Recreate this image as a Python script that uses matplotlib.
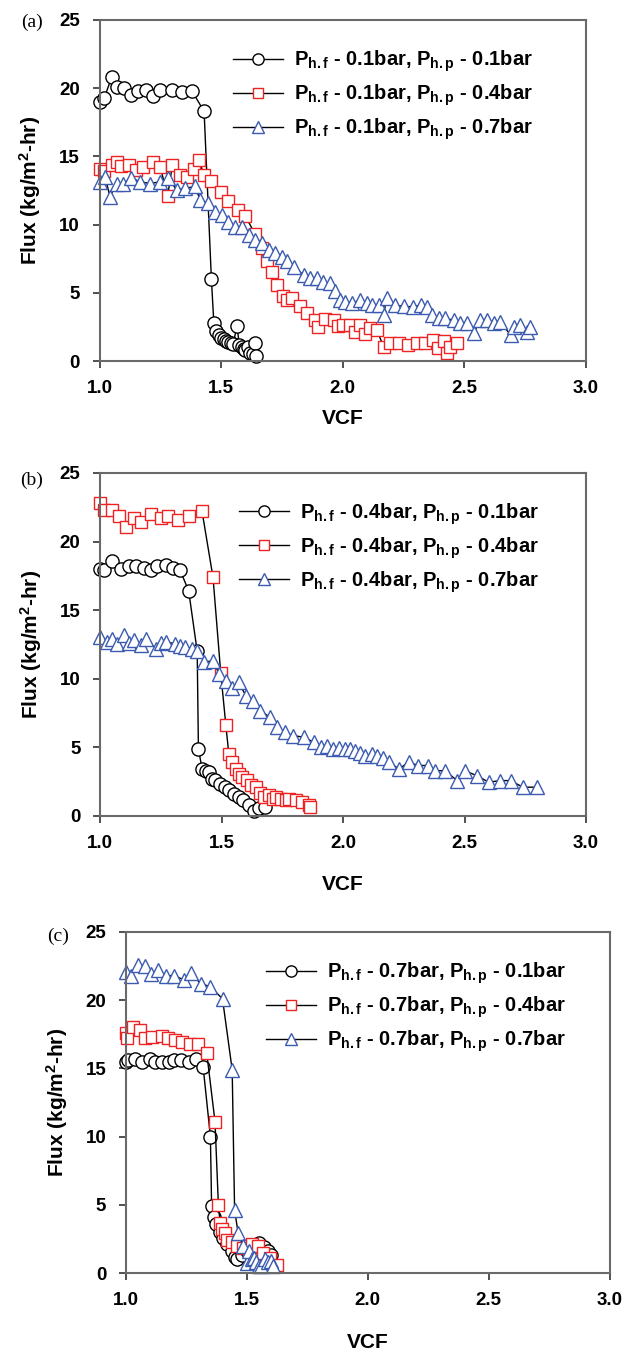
import matplotlib
matplotlib.use("Agg")
import matplotlib.pyplot as plt

plt.rcParams["font.family"] = ["Liberation Sans", "DejaVu Sans"]
plt.rcParams["font.weight"] = "bold"
plt.rcParams["mathtext.fontset"] = "custom"
plt.rcParams["mathtext.rm"] = "Liberation Sans:bold"
plt.rcParams["mathtext.bf"] = "Liberation Sans:bold"
plt.rcParams["mathtext.it"] = "Liberation Sans:bold"

# ---- panel (a): P_h.f = 0.1 bar
a1_x = [1.00, 1.02, 1.05, 1.07, 1.10, 1.13, 1.16, 1.19, 1.22, 1.25, 1.30, 1.34, 1.38, 1.43, 1.46,
        1.47, 1.48, 1.49, 1.50, 1.51, 1.52, 1.53, 1.54, 1.55, 1.565, 1.575, 1.585, 1.595, 1.60,
        1.61, 1.62, 1.63, 1.64, 1.645]
a1_y = [19.0, 19.3, 20.8, 20.1, 20.0, 19.5, 19.8, 19.9, 19.4, 19.9, 19.9, 19.7, 19.8, 18.3, 6.0,
        2.8, 2.2, 1.9, 1.7, 1.6, 1.5, 1.4, 1.3, 1.25, 2.6, 1.15, 1.0, 0.9, 0.8,
        1.0, 0.6, 0.5, 1.3, 0.4]
a2_x = [1.00, 1.02, 1.05, 1.07, 1.09, 1.12, 1.15, 1.18, 1.22, 1.25, 1.28, 1.30, 1.33, 1.36, 1.39,
        1.41, 1.43, 1.46, 1.50, 1.53, 1.57, 1.60, 1.64, 1.67, 1.69, 1.71, 1.73, 1.756, 1.77,
        1.79, 1.825, 1.853, 1.887, 1.90, 1.928, 1.962, 1.98, 2.003, 2.03, 2.05, 2.072, 2.093,
        2.113, 2.14, 2.168, 2.195, 2.23, 2.27, 2.305, 2.34, 2.37, 2.39, 2.415, 2.43, 2.44, 2.47]
a2_y = [14.1, 13.9, 14.4, 14.6, 14.3, 14.4, 14.0, 14.2, 14.6, 14.2, 12.1, 14.4, 13.6, 13.5, 14.1,
        14.7, 13.6, 13.2, 12.4, 11.7, 11.1, 10.6, 9.3, 8.3, 7.3, 6.5, 5.6, 4.8, 4.5,
        4.6, 4.0, 3.5, 3.0, 2.5, 3.1, 3.0, 2.6, 2.65, 2.65, 2.15, 2.65, 2.0,
        2.4, 2.27, 1.05, 1.3, 1.3, 1.17, 1.3, 1.3, 1.54, 0.92, 1.5, 0.55, 1.05, 1.3]
a3_x = [1.00, 1.023, 1.043, 1.07, 1.098, 1.13, 1.167, 1.208, 1.25, 1.283, 1.317, 1.35, 1.393,
        1.414, 1.448, 1.475, 1.503, 1.53, 1.558, 1.585, 1.613, 1.64, 1.667, 1.695, 1.722, 1.75,
        1.77, 1.80, 1.839, 1.866, 1.894, 1.92, 1.948, 1.968, 1.99, 2.01, 2.038, 2.072, 2.10,
        2.12, 2.147, 2.168, 2.18, 2.216, 2.25, 2.29, 2.32, 2.346, 2.367, 2.394, 2.42, 2.456,
        2.483, 2.51, 2.538, 2.566, 2.593, 2.62, 2.648, 2.69, 2.703, 2.73, 2.758, 2.77]
a3_y = [13.15, 13.5, 12.05, 13.0, 13.0, 13.4, 13.15, 13.0, 13.15, 13.4, 12.55, 12.65, 12.8,
        11.8, 11.56, 10.95, 10.7, 10.2, 9.85, 9.85, 9.24, 8.87, 8.63, 8.14, 7.9, 7.65,
        7.3, 6.9, 6.3, 6.05, 6.05, 5.8, 5.7, 5.1, 4.47, 4.35, 4.23, 4.47, 4.23, 4.1, 4.1,
        3.37, 4.6, 4.1, 4.0, 3.98, 4.1, 3.98, 3.37, 3.12, 3.12, 3.0, 2.76, 2.76, 2.03,
        3.0, 3.0, 2.76, 2.88, 1.9, 2.5, 2.65, 2.15, 2.5]

# ---- panel (b): P_h.f = 0.4 bar
b1_x = [1.00, 1.016, 1.05, 1.085, 1.12, 1.15, 1.18, 1.21, 1.235, 1.27, 1.30, 1.33, 1.365, 1.40,
        1.405, 1.42, 1.435, 1.448, 1.46, 1.475, 1.495, 1.516, 1.53, 1.55, 1.57, 1.59, 1.612,
        1.633, 1.653, 1.68]
b1_y = [18.0, 17.9, 18.6, 18.0, 18.2, 18.2, 18.1, 17.9, 18.2, 18.3, 18.1, 17.9, 16.4, 12.0,
        4.9, 3.45, 3.3, 3.2, 2.7, 2.6, 2.35, 2.1, 1.9, 1.6, 1.4, 1.15, 0.8, 0.4, 0.55, 0.65]
b2_x = [1.00, 1.016, 1.05, 1.08, 1.105, 1.14, 1.17, 1.21, 1.25, 1.28, 1.32, 1.365, 1.42, 1.465,
        1.497, 1.518, 1.53, 1.545, 1.558, 1.572, 1.586, 1.606, 1.62, 1.64, 1.66, 1.675, 1.695,
        1.71, 1.723, 1.744, 1.764, 1.778, 1.805, 1.833, 1.86, 1.866]
b2_y = [22.8, 22.3, 22.3, 21.9, 21.1, 21.7, 21.4, 22.0, 21.7, 21.9, 21.6, 21.9, 22.2, 17.4,
        10.4, 6.6, 4.55, 3.94, 3.45, 3.09, 2.85, 2.6, 2.24, 2.12, 1.64, 1.39, 1.5,
        1.27, 1.4, 1.27, 1.15, 1.27, 1.15, 1.03, 0.79, 0.66]
b3_x = [1.00, 1.03, 1.05, 1.07, 1.10, 1.12, 1.14, 1.17, 1.19, 1.23, 1.25, 1.27, 1.31, 1.33, 1.35,
        1.38, 1.40, 1.43, 1.465, 1.49, 1.52, 1.545, 1.57, 1.60, 1.63, 1.66, 1.70, 1.73, 1.76,
        1.795, 1.84, 1.88, 1.91, 1.935, 1.96, 1.985, 2.01, 2.03, 2.05, 2.07, 2.09, 2.12, 2.14,
        2.165, 2.19, 2.23, 2.27, 2.31, 2.35, 2.38, 2.42, 2.47, 2.50, 2.55, 2.60, 2.645, 2.69,
        2.74, 2.80]
b3_y = [13.05, 12.7, 12.9, 12.55, 13.17, 12.6, 12.8, 12.5, 12.9, 12.2, 12.6, 12.7, 12.55, 12.4,
        12.3, 12.2, 12.06, 11.2, 11.33, 10.36, 9.87, 9.3, 9.75, 8.78, 8.4, 7.67, 7.19, 6.46,
        6.1, 5.86, 5.74, 5.37, 5.0, 5.1, 4.89, 4.95, 4.89, 4.9, 4.77, 4.6, 4.4, 4.5, 4.4,
        4.2, 3.92, 3.43, 3.92, 3.68, 3.68, 3.3, 3.3, 2.58, 3.3, 2.95, 2.46, 2.58, 2.58,
        2.1, 2.1]

# ---- panel (c): P_h.f = 0.7 bar
c1_x = [1.00, 1.01, 1.04, 1.066, 1.10, 1.12, 1.15, 1.18, 1.20, 1.23, 1.26, 1.29, 1.32, 1.35,
        1.355, 1.365, 1.375, 1.39, 1.40, 1.42, 1.44, 1.45, 1.46, 1.48, 1.50, 1.52, 1.55, 1.57,
        1.59, 1.60]
c1_y = [15.5, 15.6, 15.7, 15.5, 15.7, 15.5, 15.5, 15.5, 15.6, 15.6, 15.5, 15.7, 15.1, 10.0,
        4.9, 4.1, 3.6, 3.0, 2.6, 2.1, 1.6, 1.2, 1.0, 1.3, 1.6, 1.9, 2.2, 1.9, 1.6, 1.3]
c2_x = [1.00, 1.005, 1.032, 1.059, 1.08, 1.107, 1.149, 1.176, 1.204, 1.231, 1.266, 1.30, 1.335,
        1.369, 1.383, 1.39, 1.397, 1.41, 1.417, 1.438, 1.459, 1.486, 1.52, 1.548, 1.569,
        1.596, 1.624]
c2_y = [17.6, 17.2, 18.0, 17.8, 17.2, 17.3, 17.4, 17.2, 17.1, 16.95, 16.8, 16.8, 16.1,
        11.1, 5.0, 3.7, 3.2, 2.9, 2.4, 2.3, 1.95, 1.8, 2.1, 1.95, 1.5, 1.1, 0.6]
c3_x = [1.00, 1.02, 1.05, 1.08, 1.105, 1.135, 1.165, 1.20, 1.24, 1.27, 1.31, 1.35, 1.40, 1.44,
        1.45, 1.465, 1.486, 1.50, 1.51, 1.52, 1.53, 1.54, 1.55, 1.56, 1.575, 1.59, 1.60, 1.61]
c3_y = [22.1, 21.8, 22.6, 22.5, 21.9, 22.2, 21.8, 21.8, 21.5, 22.0, 21.2, 21.0, 20.1, 14.9,
        4.6, 2.9, 1.95, 0.7, 1.6, 1.0, 1.1, 0.8, 0.5, 0.5, 1.0, 0.8, 0.85, 0.5]

panels = [
    ("(a)", "0.1", [(a1_x, a1_y), (a2_x, a2_y), (a3_x, a3_y)]),
    ("(b)", "0.4", [(b1_x, b1_y), (b2_x, b2_y), (b3_x, b3_y)]),
    ("(c)", "0.7", [(c1_x, c1_y), (c2_x, c2_y), (c3_x, c3_y)]),
]
hp_values = ["0.1", "0.4", "0.7"]
x_ticks = [1.0, 1.5, 2.0, 2.5, 3.0]
y_ticks = [0, 5, 10, 15, 20, 25]

W, H = 633, 1354
# axes boxes in pixels: left, top, right, bottom
boxes = [(99.5, 20, 586, 361), (100, 473, 586, 816), (125.7, 932, 609.7, 1273)]
ylab_x = [30, 31, 57]
xlab_y = [418, 885, 1343]
tag_xy = [(32, 22), (32, 480), (58, 936)]
leg_anchor = [(0.274, 0.915), (0.286, 0.918), (0.29, 0.915)]

styles = [
    dict(marker="o", ms=9.5, mec="black"),
    dict(marker="s", ms=8.5, mec="#ee2222"),
    dict(marker="^", ms=10, mec="#3a5bb0"),
]

fig = plt.figure(figsize=(W / 100, H / 100), dpi=100)
for i, (tag, hf, series) in enumerate(panels):
    l, t, r, b = boxes[i]
    ax = fig.add_axes([l / W, 1 - b / H, (r - l) / W, (b - t) / H])
    for (xs, ys), st, hp in zip(series, styles, hp_values):
        lab = (r"$\mathbf{P_{h.f}}$ - " + hf + r"bar, $\mathbf{P_{h.p}}$ - " + hp + "bar")
        ax.plot(xs, ys, color="black", lw=1.0, mfc="white", mew=1.0, clip_on=False,
                label=lab, **st)
    ax.set_xlim(1.0, 3.0)
    ax.set_ylim(0, 25)
    ax.set_xticks(x_ticks)
    ax.set_xticklabels([f"{v:.1f}" for v in x_ticks])
    ax.set_yticks(y_ticks)
    ax.tick_params(direction="out", length=5, width=1.2, labelsize=13.5, pad=9, color="#333333")
    for sp in ax.spines.values():
        sp.set_color("#6a6a6a")
        sp.set_linewidth(1.5)
    leg = ax.legend(loc="upper left", bbox_to_anchor=leg_anchor[i], frameon=False,
                    fontsize=14.5, handlelength=2.5, handletextpad=0.55, labelspacing=0.42,
                    borderpad=0, borderaxespad=0, markerscale=0.85)
    fig.text(ylab_x[i] / W, 1 - ((t + b) / 2) / H, "Flux (kg/m$^\\mathbf{2}$-hr)",
             rotation=90, ha="center", va="center", fontsize=15, fontweight="bold")
    fig.text(((l + r) / 2) / W, 1 - xlab_y[i] / H, "VCF", ha="center", va="center",
             fontsize=15, fontweight="bold")
    fig.text(tag_xy[i][0] / W, 1 - tag_xy[i][1] / H, tag, ha="center", va="center",
             fontsize=14, fontweight="normal", family="Liberation Serif")

fig.savefig("out.png", dpi=100)
